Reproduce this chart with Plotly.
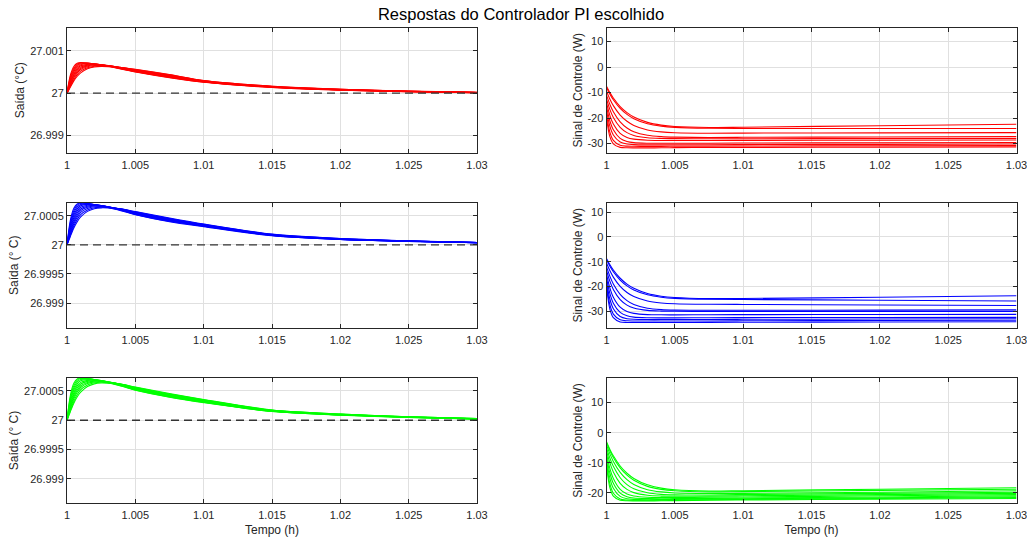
import plotly.graph_objects as go

# ---------------- data ----------------
titulo = "Respostas do Controlador PI escolhido"
referencia = 27.0

x_ticks = [1.0, 1.005, 1.01, 1.015, 1.02, 1.025, 1.03]
x_ticktext = ["1", "1.005", "1.01", "1.015", "1.02", "1.025", "1.03"]

# output (Saída) time samples
t_saida = [1.0, 1.00025, 1.0005, 1.00075, 1.001, 1.0015, 1.002, 1.0025, 1.003,
           1.004, 1.005, 1.0075, 1.01, 1.015, 1.02, 1.025, 1.03]

# deviation above 27 °C in micro-degrees; one row per time sample, one column per curve
saida_vermelho_uC = [
    [0, 0, 0, 0, 0, 0, 0, 0, 0, 0],
    [430, 390, 350, 315, 280, 250, 220, 195, 170, 150],
    [630, 590, 550, 510, 470, 435, 400, 365, 325, 290],
    [705, 685, 655, 620, 585, 550, 515, 480, 440, 400],
    [722, 712, 695, 672, 645, 617, 588, 558, 520, 480],
    [712, 710, 705, 695, 680, 663, 645, 625, 600, 575],
    [688, 690, 692, 690, 685, 676, 665, 652, 636, 618],
    [662, 666, 670, 672, 672, 669, 664, 656, 645, 632],
    [636, 640, 645, 648, 650, 650, 648, 645, 637, 628],
    [565, 572, 579, 585, 591, 596, 600, 603, 605, 606],
    [500, 507, 514, 521, 528, 535, 542, 549, 557, 565],
    [365, 373, 381, 389, 398, 406, 415, 423, 432, 440],
    [258, 263, 268, 273, 278, 282, 287, 291, 296, 300],
    [135, 138, 142, 145, 148, 152, 155, 158, 162, 165],
    [72, 74, 77, 79, 82, 84, 87, 90, 92, 95],
    [35, 37, 38, 40, 42, 43, 45, 47, 48, 50],
    [12, 13, 14, 15, 16, 16, 17, 18, 19, 20],
]
saida_azul_uC = [
    [0, 0, 0, 0, 0, 0, 0, 0, 0, 0],
    [430, 390, 350, 315, 280, 250, 220, 195, 170, 150],
    [630, 590, 550, 510, 470, 435, 400, 365, 325, 290],
    [705, 685, 655, 620, 585, 550, 515, 480, 440, 400],
    [724, 714, 697, 674, 647, 619, 590, 560, 522, 482],
    [714, 712, 707, 697, 682, 665, 647, 627, 602, 577],
    [692, 694, 696, 694, 689, 680, 669, 656, 640, 622],
    [668, 672, 676, 678, 678, 675, 670, 662, 651, 638],
    [644, 648, 653, 656, 658, 658, 656, 653, 645, 636],
    [585, 591, 597, 602, 607, 611, 614, 616, 617, 618],
    [520, 526, 532, 538, 544, 550, 556, 562, 568, 574],
    [400, 407, 414, 421, 428, 435, 442, 449, 456, 463],
    [315, 320, 325, 330, 335, 340, 345, 350, 355, 360],
    [158, 161, 164, 167, 170, 173, 176, 179, 182, 185],
    [92, 94, 96, 98, 100, 102, 104, 106, 108, 110],
    [60, 61, 62, 63, 64, 65, 66, 67, 68, 69],
    [38, 38, 39, 39, 40, 40, 41, 41, 42, 42],
]
saida_verde_uC = [
    [0, 0, 0, 0, 0, 0, 0, 0, 0, 0],
    [430, 390, 350, 315, 280, 250, 220, 195, 170, 150],
    [630, 590, 550, 510, 470, 435, 400, 365, 325, 290],
    [705, 685, 655, 620, 585, 550, 515, 480, 440, 400],
    [722, 712, 695, 672, 645, 617, 588, 558, 520, 480],
    [712, 710, 705, 695, 680, 663, 645, 625, 600, 575],
    [690, 692, 694, 692, 687, 678, 667, 654, 638, 620],
    [665, 669, 673, 675, 675, 672, 667, 659, 648, 635],
    [640, 644, 649, 652, 654, 654, 652, 649, 641, 632],
    [580, 586, 592, 597, 602, 606, 609, 611, 612, 613],
    [512, 518, 524, 530, 536, 542, 548, 554, 560, 566],
    [392, 399, 406, 413, 420, 427, 434, 441, 448, 455],
    [300, 306, 312, 318, 324, 330, 336, 342, 348, 354],
    [148, 151, 154, 157, 160, 163, 166, 169, 172, 175],
    [88, 90, 92, 94, 96, 98, 100, 102, 104, 106],
    [48, 49, 51, 52, 53, 55, 56, 57, 59, 60],
    [20, 21, 22, 23, 24, 25, 26, 27, 28, 29],
]

# control signal (W) time samples
t_controle = [1.0, 1.00025, 1.0005, 1.001, 1.0015, 1.002, 1.003, 1.004, 1.005,
              1.0075, 1.01, 1.02, 1.03]

controle_vermelho = [
    [-7.5, -10.03, -12.14, -15.49, -17.86, -19.57, -21.69, -22.77, -23.31, -23.7, -23.6, -23.0, -22.4],
    [-8.0, -10.64, -12.83, -16.21, -18.58, -20.24, -22.22, -23.18, -23.65, -24.0, -24.1, -24.1, -24.1],
    [-9.5, -12.60, -15.13, -18.82, -21.26, -22.88, -24.65, -25.41, -25.74, -25.95, -25.9, -25.8, -25.7],
    [-11.0, -14.67, -17.52, -21.49, -23.90, -25.36, -26.77, -27.30, -27.49, -27.6, -27.55, -27.4, -27.3],
    [-12.5, -16.68, -19.75, -23.62, -25.71, -26.82, -27.73, -28.00, -28.07, -28.1, -28.1, -28.05, -28.0],
    [-14.0, -19.05, -22.36, -26.00, -27.59, -28.27, -28.70, -28.78, -28.8, -28.8, -28.75, -28.7, -28.6],
    [-15.5, -21.16, -24.60, -27.96, -29.18, -29.64, -29.86, -29.9, -29.9, -29.85, -29.8, -29.7, -29.6],
    [-17.0, -23.28, -26.63, -29.39, -30.18, -30.41, -30.5, -30.5, -30.5, -30.45, -30.4, -30.3, -30.2],
    [-18.5, -25.62, -28.72, -30.65, -31.02, -31.08, -31.1, -31.1, -31.05, -31.0, -30.95, -30.85, -30.75],
    [-20.0, -27.39, -30.12, -31.49, -31.67, -31.7, -31.7, -31.65, -31.6, -31.55, -31.5, -31.4, -31.3],
]
controle_azul = [
    [-8.7, -11.21, -13.31, -16.64, -19.00, -20.70, -22.80, -23.88, -24.41, -24.85, -24.8, -24.3, -23.7],
    [-9.2, -11.82, -14.00, -17.36, -19.71, -21.36, -23.33, -24.29, -24.75, -25.1, -25.2, -25.5, -25.8],
    [-10.5, -13.64, -16.19, -19.94, -22.41, -24.04, -25.83, -26.60, -26.94, -27.15, -27.2, -27.4, -27.6],
    [-12.0, -15.89, -18.92, -23.12, -25.68, -27.22, -28.72, -29.28, -29.48, -29.55, -29.55, -29.5, -29.4],
    [-13.5, -17.92, -21.17, -25.26, -27.48, -28.65, -29.61, -29.89, -29.97, -30.0, -30.0, -30.0, -30.0],
    [-15.0, -20.59, -24.27, -28.30, -30.06, -30.81, -31.29, -31.38, -31.4, -31.35, -31.3, -31.25, -31.2],
    [-16.5, -22.83, -26.68, -30.43, -31.79, -32.31, -32.56, -32.6, -32.6, -32.55, -32.5, -32.45, -32.4],
    [-18.0, -25.11, -28.91, -32.05, -32.94, -33.20, -33.3, -33.3, -33.3, -33.25, -33.2, -33.1, -33.0],
    [-19.0, -27.42, -31.08, -33.36, -33.80, -33.88, -33.9, -33.9, -33.9, -33.85, -33.8, -33.7, -33.6],
    [-20.0, -29.16, -32.54, -34.24, -34.46, -34.5, -34.5, -34.5, -34.5, -34.45, -34.4, -34.3, -34.2],
]
controle_verde = [
    [-3.0, -5.56, -7.70, -11.08, -13.49, -15.22, -17.36, -18.45, -19.00, -19.4, -19.3, -18.8, -18.3],
    [-3.3, -6.01, -8.25, -11.71, -14.14, -15.84, -17.87, -18.86, -19.34, -19.7, -19.6, -19.2, -18.8],
    [-4.0, -7.06, -9.56, -13.21, -15.62, -17.22, -18.96, -19.71, -20.05, -20.25, -20.2, -19.8, -19.3],
    [-5.0, -8.49, -11.21, -14.99, -17.28, -18.67, -20.01, -20.52, -20.69, -20.75, -20.6, -20.2, -19.8],
    [-6.0, -10.07, -13.07, -16.84, -18.87, -19.95, -20.84, -21.10, -21.17, -21.1, -21.0, -20.6, -20.2],
    [-7.0, -11.98, -15.25, -18.84, -20.40, -21.07, -21.50, -21.58, -21.6, -21.5, -21.4, -21.0, -20.6],
    [-8.0, -13.50, -16.85, -20.11, -21.30, -21.75, -21.96, -22.0, -21.95, -21.85, -21.75, -21.4, -21.0],
    [-9.0, -15.18, -18.48, -21.21, -21.99, -22.21, -22.3, -22.25, -22.2, -22.1, -22.0, -21.7, -21.3],
    [-10.0, -17.06, -20.14, -22.05, -22.42, -22.48, -22.5, -22.45, -22.4, -22.3, -22.2, -21.9, -21.6],
    [-11.0, -18.39, -21.12, -22.49, -22.67, -22.7, -22.7, -22.65, -22.6, -22.5, -22.4, -22.15, -21.9],
]

saida_ticks_top = [26.999, 27.0, 27.001]
saida_ticktext_top = ["26.999", "27", "27.001"]
saida_ticks_fine = [26.999, 26.9995, 27.0, 27.0005]
saida_ticktext_fine = ["26.999", "26.9995", "27", "27.0005"]
controle_ticks = [-30, -20, -10, 0, 10]
controle_ticks_verde = [-20, -10, 0, 10]

# ---------------- figure ----------------
W, H = 1027, 540
FONT = "Liberation Sans, Arial, Helvetica, sans-serif"
AX = "#262626"
GRID = "#e0e0e0"

def dom_x(a, b):
    return [a / W, b / W]

def dom_y(top, bottom):
    return [1 - bottom / H, 1 - top / H]

left_x = dom_x(67, 477)
right_x = dom_x(606.5, 1016.5)
rows_y = [dom_y(27.5, 153), dom_y(202.5, 328), dom_y(378, 503)]

def transpose_dev(rows):
    n = len(rows[0])
    return [[referencia + r[k] * 1e-6 for r in rows] for k in range(n)]

panels = [
    dict(t=t_saida, curves=transpose_dev(saida_vermelho_uC), color="#ff0000", dashed=True,
         xd=left_x, yd=rows_y[0], yr=[26.99859, 27.00155], tv=saida_ticks_top, tt=saida_ticktext_top,
         ytitle="Saída (°C)", xtitle=None),
    dict(t=t_controle, curves=controle_vermelho, color="#ff0000", dashed=False,
         xd=right_x, yd=rows_y[0], yr=[-33.7, 15.5], tv=controle_ticks, tt=[str(v) for v in controle_ticks],
         ytitle="Sinal de Controle (W)", xtitle=None),
    dict(t=t_saida, curves=transpose_dev(saida_azul_uC), color="#0000ff", dashed=True,
         xd=left_x, yd=rows_y[1], yr=[26.99857, 27.00073], tv=saida_ticks_fine, tt=saida_ticktext_fine,
         ytitle="Saída (° C)", xtitle=None),
    dict(t=t_controle, curves=controle_azul, color="#0000ff", dashed=False,
         xd=right_x, yd=rows_y[1], yr=[-36.7, 13.9], tv=controle_ticks, tt=[str(v) for v in controle_ticks],
         ytitle="Sinal de Controle (W)", xtitle=None),
    dict(t=t_saida, curves=transpose_dev(saida_verde_uC), color="#00ff00", dashed=True,
         xd=left_x, yd=rows_y[2], yr=[26.99859, 27.00072], tv=saida_ticks_fine, tt=saida_ticktext_fine,
         ytitle="Saída (° C)", xtitle="Tempo (h)"),
    dict(t=t_controle, curves=controle_verde, color="#00ff00", dashed=False,
         xd=right_x, yd=rows_y[2], yr=[-23.4, 18.2], tv=controle_ticks_verde, tt=[str(v) for v in controle_ticks_verde],
         ytitle="Sinal de Controle (W)", xtitle="Tempo (h)"),
]

fig = go.Figure()
layout_axes = {}
for i, p in enumerate(panels, start=1):
    xa = "x" if i == 1 else f"x{i}"
    ya = "y" if i == 1 else f"y{i}"
    for c in p["curves"]:
        fig.add_trace(go.Scatter(x=p["t"], y=c, mode="lines",
                                 line=dict(color=p["color"], width=1.1, shape="spline", smoothing=0.8),
                                 xaxis=xa, yaxis=ya, showlegend=False, hoverinfo="skip"))
    if p["dashed"]:
        fig.add_trace(go.Scatter(x=[x_ticks[0], x_ticks[-1]], y=[referencia, referencia], mode="lines",
                                 line=dict(color="#333333", width=1.3, dash="8px,5px"),
                                 xaxis=xa, yaxis=ya, showlegend=False, hoverinfo="skip"))
    common = dict(showline=True, linecolor=AX, linewidth=1, mirror="ticks", ticks="inside",
                  ticklen=4, tickcolor=AX, tickwidth=1, showgrid=True, gridcolor=GRID, gridwidth=1,
                  zeroline=False, automargin=False, ticklabeloverflow="allow",
                  tickfont=dict(family=FONT, size=11, color=AX))
    xkey = "xaxis" if i == 1 else f"xaxis{i}"
    ykey = "yaxis" if i == 1 else f"yaxis{i}"
    xdict = dict(common, domain=p["xd"], anchor=ya, range=[1.0, 1.03],
                 tickmode="array", tickvals=x_ticks, ticktext=x_ticktext, ticklabelstandoff=2)
    if p["xtitle"]:
        xdict["title"] = dict(text=p["xtitle"], font=dict(family=FONT, size=12, color=AX), standoff=5)
    ydict = dict(common, domain=p["yd"], anchor=xa, range=p["yr"],
                 tickmode="array", tickvals=p["tv"], ticktext=p["tt"],
                 title=dict(text=p["ytitle"], font=dict(family=FONT, size=12, color=AX), standoff=2))
    layout_axes[xkey] = xdict
    layout_axes[ykey] = ydict

fig.update_layout(
    width=W, height=H,
    margin=dict(l=0, r=0, t=0, b=0),
    paper_bgcolor="white", plot_bgcolor="white",
    title=dict(text=titulo, x=521 / W, xanchor="center", y=1 - 14 / H, yanchor="middle",
               font=dict(family=FONT, size=16.5, color="#000000")),
    **layout_axes,
)

fig.write_html("out.html", config={"displayModeBar": False},
               post_script="document.body.style.margin='0';document.body.style.padding='0';")
